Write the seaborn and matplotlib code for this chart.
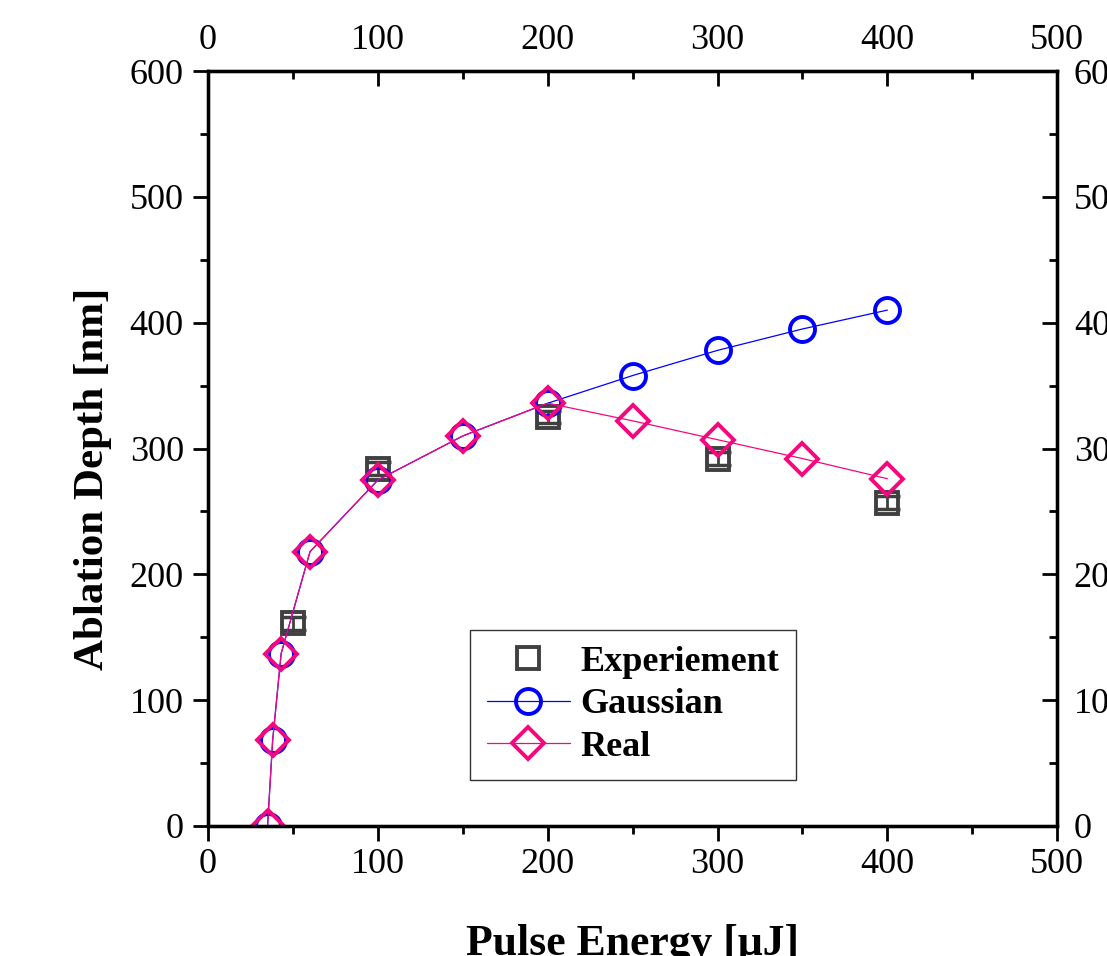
import matplotlib
matplotlib.use('Agg')
import matplotlib.pyplot as plt
from matplotlib.ticker import MultipleLocator
import seaborn as sns

# Pulse energy [uJ] for the simulated curves
energy = [35, 38, 43, 60, 100, 150, 200, 250, 300, 350, 400]
gaussian_depth = [0, 68, 137, 218, 275, 310, 336, 358, 378, 395, 410]
real_depth = [0, 68, 137, 218, 275, 310, 336, 322, 307, 292, 276]

# measured points
exp_energy = [50, 100, 200, 300, 400]
exp_depth = [161, 284, 325, 292, 257]
exp_err = [5, 5, 5, 5, 5]

x_ticks = [0, 100, 200, 300, 400, 500]
y_ticks = [0, 100, 200, 300, 400, 500, 600]

sns.set_style("ticks")
plt.rcParams['font.family'] = ['Liberation Serif', 'DejaVu Serif']
plt.rcParams['text.color'] = 'black'
plt.rcParams['axes.labelcolor'] = 'black'
plt.rcParams['xtick.color'] = 'black'
plt.rcParams['ytick.color'] = 'black'

gray = '#404040'
blue = '#0000ff'
pink = '#f5077f'

fig = plt.figure(figsize=(11.07, 9.56), dpi=100)
ax = fig.add_axes([0.188, 0.136, 0.767, 0.7897])

# error bars under the experiment squares
ax.errorbar(exp_energy, exp_depth, yerr=exp_err, fmt='none', ecolor=gray,
            elinewidth=2, capsize=9, capthick=2.5, zorder=2)

sns.lineplot(x=exp_energy, y=exp_depth, ax=ax, errorbar=None, sort=False,
             linestyle='none', marker='s', markersize=16,
             markerfacecolor='none', markeredgecolor=gray, markeredgewidth=2.8,
             color=gray, label='Experiement', zorder=3)
sns.lineplot(x=energy, y=gaussian_depth, ax=ax, errorbar=None, sort=False,
             color=blue, linewidth=0.9, marker='o', markersize=18,
             markerfacecolor='none', markeredgecolor=blue, markeredgewidth=2.8,
             label='Gaussian', zorder=4)
sns.lineplot(x=energy, y=real_depth, ax=ax, errorbar=None, sort=False,
             color=pink, linewidth=0.9, marker='D', markersize=16,
             markerfacecolor='none', markeredgecolor=pink, markeredgewidth=2.8,
             label='Real', zorder=5)

ax.set_xlim(0, 500)
ax.set_ylim(0, 600)
ax.set_xticks(x_ticks)
ax.set_yticks(y_ticks)
ax.xaxis.set_minor_locator(MultipleLocator(50))
ax.yaxis.set_minor_locator(MultipleLocator(50))

ax.tick_params(which='major', direction='out', length=10.5, width=2, labelsize=26)
ax.tick_params(which='minor', direction='out', length=5.5, width=2)
ax.tick_params(axis='x', which='major', pad=5)
ax.tick_params(axis='y', which='major', pad=7)
for sp in ax.spines.values():
    sp.set_linewidth(2.3)
    sp.set_color('black')

ax.set_xlabel('Pulse Energy [μJ]', fontsize=31.5, fontweight='bold')
ax.set_ylabel('Ablation Depth [nm]', fontsize=31, fontweight='bold')
ax.xaxis.set_label_coords(0.5, -0.13)
ax.yaxis.set_label_coords(-0.113, 0.46)

# top and right axes, ticks pointing inward
ax_top = ax.twiny()
ax_top.set_xlim(0, 500)
ax_top.set_xticks(x_ticks)
ax_top.xaxis.set_minor_locator(MultipleLocator(50))
ax_top.tick_params(which='major', direction='in', length=10.5, width=2, labelsize=26, pad=10)
ax_top.tick_params(which='minor', direction='in', length=5.5, width=2)

ax_right = ax.twinx()
ax_right.set_ylim(0, 600)
ax_right.set_yticks(y_ticks)
ax_right.yaxis.set_minor_locator(MultipleLocator(50))
ax_right.tick_params(which='major', direction='in', length=10.5, width=2, labelsize=26, pad=12)
ax_right.tick_params(which='minor', direction='in', length=5.5, width=2)

for a in (ax_top, ax_right):
    for sp in a.spines.values():
        sp.set_linewidth(2.3)
        sp.set_color('black')

leg = ax.legend(loc='lower left', bbox_to_anchor=(0.309, 0.061), borderaxespad=0,
                frameon=True, fancybox=False, framealpha=1, edgecolor='#333333',
                prop={'weight': 'bold', 'size': 26}, handlelength=2.3,
                handletextpad=0.3, labelspacing=0.25, borderpad=0.45)
leg.get_frame().set_linewidth(1.0)

fig.savefig('out.png', dpi=100)
plt.close()
